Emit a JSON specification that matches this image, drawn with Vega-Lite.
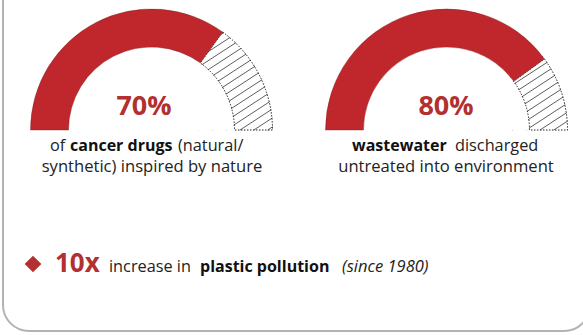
{
  "$schema": "https://vega.github.io/schema/vega-lite/v6.json",
  "width": 583,
  "height": 335,
  "autosize": "none",
  "padding": 0,
  "background": "white",
  "config": {"view": {"stroke": null}},
  "datasets": {
    "arcs": [
      {"gauge": "cancer drugs", "cx": 151.5, "cy": 130, "part": "filled", "from": 0, "to": 70},
      {"gauge": "cancer drugs", "cx": 151.5, "cy": 130, "part": "rest", "from": 70, "to": 100},
      {"gauge": "wastewater", "cx": 446.5, "cy": 130, "part": "filled", "from": 0, "to": 80},
      {"gauge": "wastewater", "cx": 446.5, "cy": 130, "part": "rest", "from": 80, "to": 100}
    ],
    "covers": [
      {"cx": 151.5, "cy": 130, "from": 55, "to": 100},
      {"cx": 446.5, "cy": 130, "from": 70, "to": 100}
    ],
    "hatch": [
      {"x": 198, "y": 40.3, "x2": 216.9, "y2": 28},
      {"x": 198, "y": 49.3, "x2": 230.8, "y2": 28},
      {"x": 198, "y": 58.3, "x2": 244.6, "y2": 28},
      {"x": 198, "y": 67.3, "x2": 258.5, "y2": 28},
      {"x": 198, "y": 76.3, "x2": 272.3, "y2": 28},
      {"x": 198, "y": 85.3, "x2": 276, "y2": 34.6},
      {"x": 198, "y": 94.3, "x2": 276, "y2": 43.6},
      {"x": 198, "y": 103.3, "x2": 276, "y2": 52.6},
      {"x": 198, "y": 112.3, "x2": 276, "y2": 61.6},
      {"x": 198, "y": 121.3, "x2": 276, "y2": 70.6},
      {"x": 198, "y": 130, "x2": 276, "y2": 79.6},
      {"x": 212.3, "y": 130, "x2": 276, "y2": 88.6},
      {"x": 226.2, "y": 130, "x2": 276, "y2": 97.6},
      {"x": 240, "y": 130, "x2": 276, "y2": 106.6},
      {"x": 253.8, "y": 130, "x2": 276, "y2": 115.6},
      {"x": 267.7, "y": 130, "x2": 276, "y2": 124.6},
      {"x": 510, "y": 77.5, "x2": 546.2, "y2": 54},
      {"x": 510, "y": 86.5, "x2": 560, "y2": 54},
      {"x": 510, "y": 95.5, "x2": 570, "y2": 56.5},
      {"x": 510, "y": 104.5, "x2": 570, "y2": 65.5},
      {"x": 510, "y": 113.5, "x2": 570, "y2": 74.5},
      {"x": 510, "y": 122.5, "x2": 570, "y2": 83.5},
      {"x": 512.3, "y": 130, "x2": 570, "y2": 92.5},
      {"x": 526.2, "y": 130, "x2": 570, "y2": 101.5},
      {"x": 540, "y": 130, "x2": 570, "y2": 110.5},
      {"x": 553.8, "y": 130, "x2": 570, "y2": 119.5},
      {"x": 567.7, "y": 130, "x2": 570, "y2": 128.5}
    ],
    "texts": [
      {"kind": "pct", "x": 144, "y": 115, "text": "70%"},
      {"kind": "pct", "x": 446, "y": 115, "text": "80%"},
      {"kind": "plain", "x": 50, "y": 151, "text": "of"},
      {"kind": "bold", "x": 70, "y": 151, "text": "cancer drugs"},
      {"kind": "plain", "x": 178, "y": 151, "text": "(natural/"},
      {"kind": "bold", "x": 352, "y": 151, "text": "wastewater"},
      {"kind": "plain", "x": 455, "y": 151, "text": "discharged"},
      {"kind": "centred", "x": 152, "y": 172, "text": "synthetic) inspired by nature"},
      {"kind": "centred", "x": 446, "y": 172, "text": "untreated into environment"},
      {"kind": "big", "x": 55, "y": 272, "text": "10x"},
      {"kind": "plain", "x": 109, "y": 272, "text": "increase in"},
      {"kind": "bold", "x": 200, "y": 272, "text": "plastic pollution"},
      {"kind": "italic", "x": 342, "y": 272, "text": "(since 1980)"}
    ],
    "bullet": [{"x": 33, "y": 264}],
    "frame": [{"x": 3, "x2": 590, "y": -40, "y2": 331}]
  },
  "encoding": {
    "x": {"field": "x", "type": "quantitative", "axis": null, "scale": {"domain": [0, 583], "nice": false, "zero": false}},
    "y": {"field": "y", "type": "quantitative", "axis": null, "scale": {"domain": [0, 335], "nice": false, "zero": false, "reverse": true}}
  },
  "layer": [
    {
      "data": {"name": "hatch"},
      "mark": {"type": "rule", "color": "#333333", "strokeWidth": 0.8},
      "encoding": {
        "x2": {"field": "x2"},
        "y2": {"field": "y2"}
      }
    },
    {
      "data": {"name": "covers"},
      "mark": {"type": "arc", "radius": 165, "radius2": 121.5, "fill": "white"},
      "encoding": {
        "x": {"field": "cx", "type": "quantitative"},
        "y": {"field": "cy", "type": "quantitative"},
        "theta": {"field": "from", "type": "quantitative", "stack": null, "scale": {"domain": [0, 100], "range": [-1.5708, 1.5708]}},
        "theta2": {"field": "to"}
      }
    },
    {
      "data": {"name": "covers"},
      "mark": {"type": "arc", "radius": 82.5, "radius2": 0, "fill": "white"},
      "encoding": {
        "x": {"field": "cx", "type": "quantitative"},
        "y": {"field": "cy", "type": "quantitative"},
        "theta": {"field": "from", "type": "quantitative", "stack": null},
        "theta2": {"field": "to"}
      }
    },
    {
      "data": {"name": "arcs"},
      "transform": [{"filter": "datum.part === 'rest'"}],
      "mark": {"type": "arc", "radius": 121, "radius2": 83, "fill": null, "stroke": "#222222", "strokeWidth": 1, "strokeDash": [1.5, 1.5]},
      "encoding": {
        "x": {"field": "cx", "type": "quantitative"},
        "y": {"field": "cy", "type": "quantitative"},
        "theta": {"field": "from", "type": "quantitative", "stack": null},
        "theta2": {"field": "to"}
      }
    },
    {
      "data": {"name": "arcs"},
      "transform": [{"filter": "datum.part === 'filled'"}],
      "mark": {"type": "arc", "radius": 121, "radius2": 83, "fill": "#c0272d", "stroke": "#7a1a1c", "strokeWidth": 0.4},
      "encoding": {
        "x": {"field": "cx", "type": "quantitative"},
        "y": {"field": "cy", "type": "quantitative"},
        "theta": {"field": "from", "type": "quantitative", "stack": null},
        "theta2": {"field": "to"}
      }
    },
    {
      "data": {"name": "texts"},
      "transform": [{"filter": "datum.kind === 'pct'"}],
      "mark": {"type": "text", "font": "Open Sans", "fontSize": 27, "fontWeight": "bold", "color": "#b2302f", "align": "center", "baseline": "alphabetic"},
      "encoding": {"text": {"field": "text"}}
    },
    {
      "data": {"name": "texts"},
      "transform": [{"filter": "datum.kind === 'plain'"}],
      "mark": {"type": "text", "font": "Open Sans", "fontSize": 16.3, "color": "#222222", "align": "left", "baseline": "alphabetic"},
      "encoding": {"text": {"field": "text"}}
    },
    {
      "data": {"name": "texts"},
      "transform": [{"filter": "datum.kind === 'bold'"}],
      "mark": {"type": "text", "font": "Open Sans", "fontSize": 16, "fontWeight": "bold", "color": "#111111", "align": "left", "baseline": "alphabetic"},
      "encoding": {"text": {"field": "text"}}
    },
    {
      "data": {"name": "texts"},
      "transform": [{"filter": "datum.kind === 'centred'"}],
      "mark": {"type": "text", "font": "Open Sans", "fontSize": 16.6, "color": "#222222", "align": "center", "baseline": "alphabetic"},
      "encoding": {"text": {"field": "text"}}
    },
    {
      "data": {"name": "texts"},
      "transform": [{"filter": "datum.kind === 'big'"}],
      "mark": {"type": "text", "font": "Open Sans", "fontSize": 26, "fontWeight": "bold", "color": "#b2302f", "align": "left", "baseline": "alphabetic"},
      "encoding": {"text": {"field": "text"}}
    },
    {
      "data": {"name": "texts"},
      "transform": [{"filter": "datum.kind === 'italic'"}],
      "mark": {"type": "text", "font": "Open Sans", "fontSize": 16.5, "fontStyle": "italic", "color": "#222222", "align": "left", "baseline": "alphabetic"},
      "encoding": {"text": {"field": "text"}}
    },
    {
      "data": {"name": "bullet"},
      "mark": {"type": "point", "shape": "diamond", "size": 280, "filled": true, "color": "#b2302f", "opacity": 1}
    },
    {
      "data": {"name": "frame"},
      "mark": {"type": "rect", "fill": null, "stroke": "#b3b3b3", "strokeWidth": 2, "cornerRadius": 26},
      "encoding": {
        "x2": {"field": "x2"},
        "y2": {"field": "y2"}
      }
    }
  ]
}
